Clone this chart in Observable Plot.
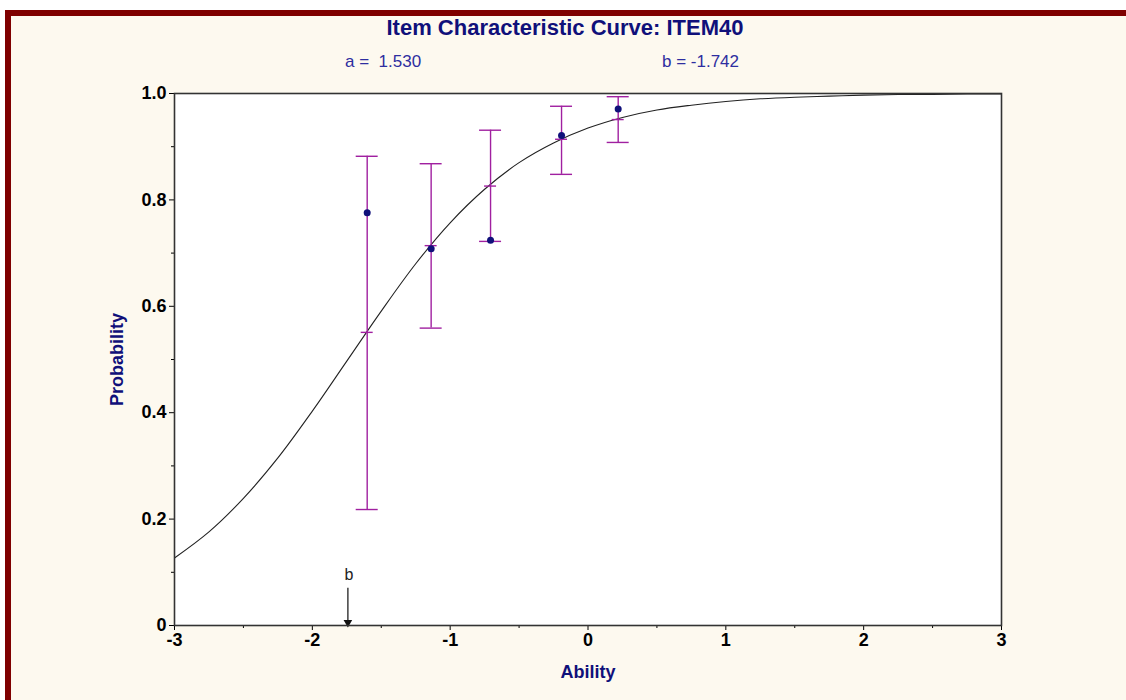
<!DOCTYPE html>
<html><head><meta charset="utf-8">
<script src="https://cdn.jsdelivr.net/npm/d3@7"></script>
<script src="https://cdn.jsdelivr.net/npm/@observablehq/plot@0.6"></script>
<style>
body{margin:0;background:#fff;width:1126px;height:700px;overflow:hidden;position:relative;font-family:"Liberation Sans",Arial,sans-serif}
#frame{position:absolute;left:5px;top:10px;width:1121px;height:690px;background:#fdf9ef;border-left:6px solid #7f0000;border-top:6px solid #7f0000;box-sizing:border-box}
#title{position:absolute;top:15px;left:0;width:1130px;text-align:center;font-weight:bold;font-size:22px;color:#10107a;line-height:26px}
.param{position:absolute;top:52px;font-size:17px;color:#2e2ea0;line-height:20px;white-space:pre}
#chart{position:absolute;left:0;top:80px}
</style></head>
<body>
<div id="frame"></div>
<div id="title">Item Characteristic Curve: ITEM40</div>
<div class="param" style="left:345px">a =  1.530</div>
<div class="param" style="left:662px">b = -1.742</div>
<div id="chart"></div>
<script>
// Item parameters
const paramA = 1.530;
const paramB = -1.742;

const groupAbility = [-1.602, -1.138, -0.707, -0.192, 0.219];
const groupObserved = [0.776, 0.708, 0.724, 0.921, 0.971];
const groupExpected = [0.551, 0.714, 0.826, 0.914, 0.951];
const groupLower = [0.218, 0.559, 0.722, 0.848, 0.908];
const groupUpper = [0.882, 0.868, 0.931, 0.976, 0.994];

// Curve points
const curveAbility = [-3, -2.75, -2.5, -2.25, -2, -1.75, -1.5, -1.25, -1, -0.75, -0.5, -0.25, 0, 0.25, 0.5, 0.75, 1, 1.25, 1.5, 1.75, 2, 2.25, 2.5, 2.75, 3];
const curveProb = [0.127, 0.176, 0.239, 0.315, 0.403, 0.497, 0.591, 0.680, 0.757, 0.820, 0.870, 0.907, 0.935, 0.955, 0.969, 0.978, 0.985, 0.990, 0.993, 0.995, 0.997, 0.998, 0.998, 0.999, 0.999];

// Ticks
const xMajorTicks = [-3, -2, -1, 0, 1, 2, 3];
const xMinorTicks = [-2.5, -1.5, -0.5, 0.5, 1.5, 2.5];
const yMajorTicks = [0, 0.2, 0.4, 0.6, 0.8, 1.0];
const yMinorTicks = [0.1, 0.3, 0.5, 0.7, 0.9];

const groups = groupAbility.map((x, i) => ({x, obs: groupObserved[i], exp: groupExpected[i], lo: groupLower[i], hi: groupUpper[i]}));
const curve = curveAbility.map((x, i) => ({x, p: curveProb[i]}));

const purple = "#a020a0";
const navy = "#10107a";

const chart = Plot.plot({
  width: 1126,
  height: 620,
  marginTop: 13,
  marginBottom: 75,
  marginLeft: 174,
  marginRight: 125,
  style: {fontFamily: "'Liberation Sans', Arial, sans-serif", fontSize: "17px", background: "transparent", color: "#000"},
  x: {domain: [-3, 3]},
  y: {domain: [0, 1]},
  marks: [
    Plot.frame({fill: "white", stroke: null}),
    Plot.axisX({ticks: xMajorTicks, tickSize: 5, tickPadding: 3, label: null, fontSize: 18, fontWeight: "bold", tickFormat: d => String(d)}),
    Plot.axisX({ticks: xMinorTicks, tickSize: 3, text: null, label: null}),
    Plot.axisY({ticks: yMajorTicks, tickSize: 5, tickPadding: 3, label: null, fontSize: 18, fontWeight: "bold", tickFormat: d => d === 0 ? "0" : d.toFixed(1)}),
    Plot.axisY({ticks: yMinorTicks, tickSize: 3, text: null, label: null}),
    Plot.line(curve, {x: "x", y: "p", curve: "catmull-rom", stroke: "#222", strokeWidth: 1.1}),
    Plot.ruleX(groups, {x: "x", y1: "lo", y2: "hi", stroke: purple, strokeWidth: 1.4}),
    Plot.ruleY(groups, {y: "hi", x1: "x", x2: "x", insetLeft: -11, insetRight: -11, stroke: purple, strokeWidth: 1.4}),
    Plot.ruleY(groups, {y: "lo", x1: "x", x2: "x", insetLeft: -11, insetRight: -11, stroke: purple, strokeWidth: 1.4}),
    Plot.ruleY(groups, {y: "exp", x1: "x", x2: "x", insetLeft: -6, insetRight: -6, stroke: purple, strokeWidth: 1.4}),
    Plot.dot(groups, {x: "x", y: "obs", r: 3.5, fill: navy, stroke: null}),
    Plot.ruleX([paramB], {x: d => d, y1: 0.07, y2: 0.005, stroke: "#222", strokeWidth: 1.3}),
    Plot.dot([paramB], {x: d => d, y: 0, symbol: "triangle", rotate: 180, r: 3.2, fill: "#111", stroke: null, dy: -3}),
    Plot.text(["b"], {x: () => paramB, y: () => 0.096, text: d => d, fontSize: 16, fill: "#222", dx: 1}),
    Plot.frame({stroke: "#333", strokeWidth: 1.6}),
    Plot.text(["Probability"], {frameAnchor: "left", text: d => d, rotate: -90, textAnchor: "middle", lineAnchor: "middle", dx: -57, fontSize: 18, fontWeight: "bold", fill: navy}),
    Plot.text(["Ability"], {frameAnchor: "bottom", text: d => d, textAnchor: "middle", lineAnchor: "middle", dy: 47, fontSize: 18, fontWeight: "bold", fill: navy})
  ]
});
document.getElementById("chart").appendChild(chart);
</script>
</body></html>
